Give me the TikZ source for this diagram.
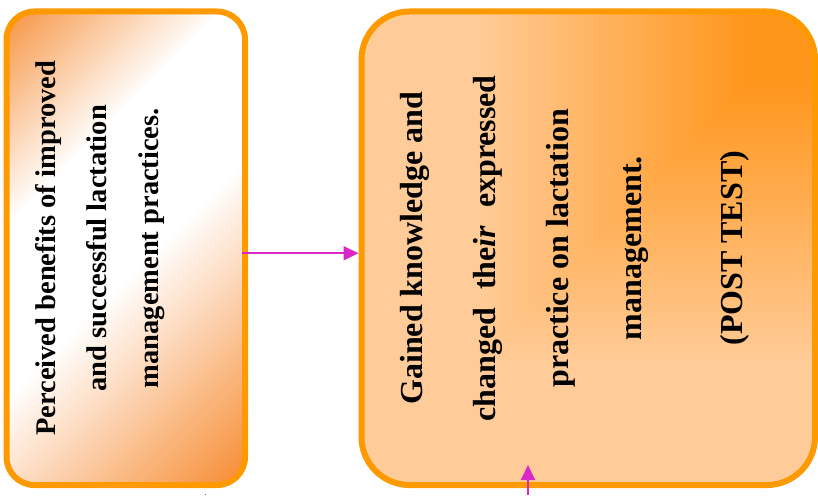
\documentclass[tikz,border=0pt]{standalone}
\usepackage{fontspec}
\setmainfont{Liberation Serif}
\usepackage{graphicx}
\usetikzlibrary{positioning,arrows.meta}

\definecolor{boxline}{RGB}{255,153,0}
\definecolor{linkpink}{RGB}{218,40,200}
\definecolor{benefitsorange}{RGB}{247,150,70}
\definecolor{benefitsdeep}{RGB}{247,140,52}

% orange - white - orange along the diagonal
\pgfdeclarehorizontalshading{benefitsshade}{100bp}{color(0bp)=(benefitsorange); color(15bp)=(benefitsorange); color(36bp)=(white); color(53bp)=(white); color(85bp)=(benefitsdeep); color(100bp)=(benefitsdeep)}
% peach, darkening towards the top right corner
\pgfdeclarefunctionalshading{gainedshade}{\pgfpointorigin}{\pgfpoint{100bp}{100bp}}{}{
  75 exch sub 50 div
  exch 75 exch sub 50 div
  2 copy lt {exch} if pop
  0.75 exch sub 0.6 div
  dup 1 gt {pop 1} if
  dup 0 lt {pop 0} if
  dup -0.212 mul 0.8 add
  exch -0.49 mul 0.6 add
  1 3 1 roll
}

\begin{document}
\begin{tikzpicture}[x=1pt, y=1pt, node distance=110.5pt,
    box/.style={rectangle, draw=boxline, line width=6pt, minimum height=473.5pt, shade},
    link/.style={-{Triangle[length=15pt,width=14pt]}, draw=linkpink, line width=2pt}]
    \useasboundingbox (0,0) rectangle (818,495);
    \node (benefits) [box, minimum width=238.5pt, rounded corners=28pt, shading=benefitsshade, shading angle=-45] at (125.75,246.75) {};
    \node (gained) [box, minimum width=453.5pt, rounded corners=48pt, shading=gainedshade, right=of benefits] {};

    \node (benefitstext) [rotate=90, align=center, font=\fontsize{28.5}{51.5}\selectfont\bfseries] at ([xshift=-26pt]benefits.center) {Perceived benefits of improved\\ and successful lactation\\ management practices.};
    \node (gainedtext) [rotate=90, align=center, font=\fontsize{32}{73}\selectfont\bfseries] at ([xshift=-13pt]gained.center) {Gained knowledge and\\ \makebox[346pt][s]{changed\hfill the\textit{ir}\hfill expressed}\\ practice on lactation\\ management.\\[28pt] (POST TEST)};

    \coordinate (feedin) at (528,0);
    \coordinate (feedtip) at (528,30);
    \coordinate (stubin) at (205,0);
    \coordinate (stubtop) at (205,1.5);

    \draw[link, shorten <=-6pt] ([yshift=-5pt]benefits.east) -- ([yshift=-5pt]gained.west);
    \draw[link] (feedin) -- (feedtip);
    \draw[draw=linkpink, line width=1pt] (stubin) -- (stubtop);
\end{tikzpicture}
\end{document}
